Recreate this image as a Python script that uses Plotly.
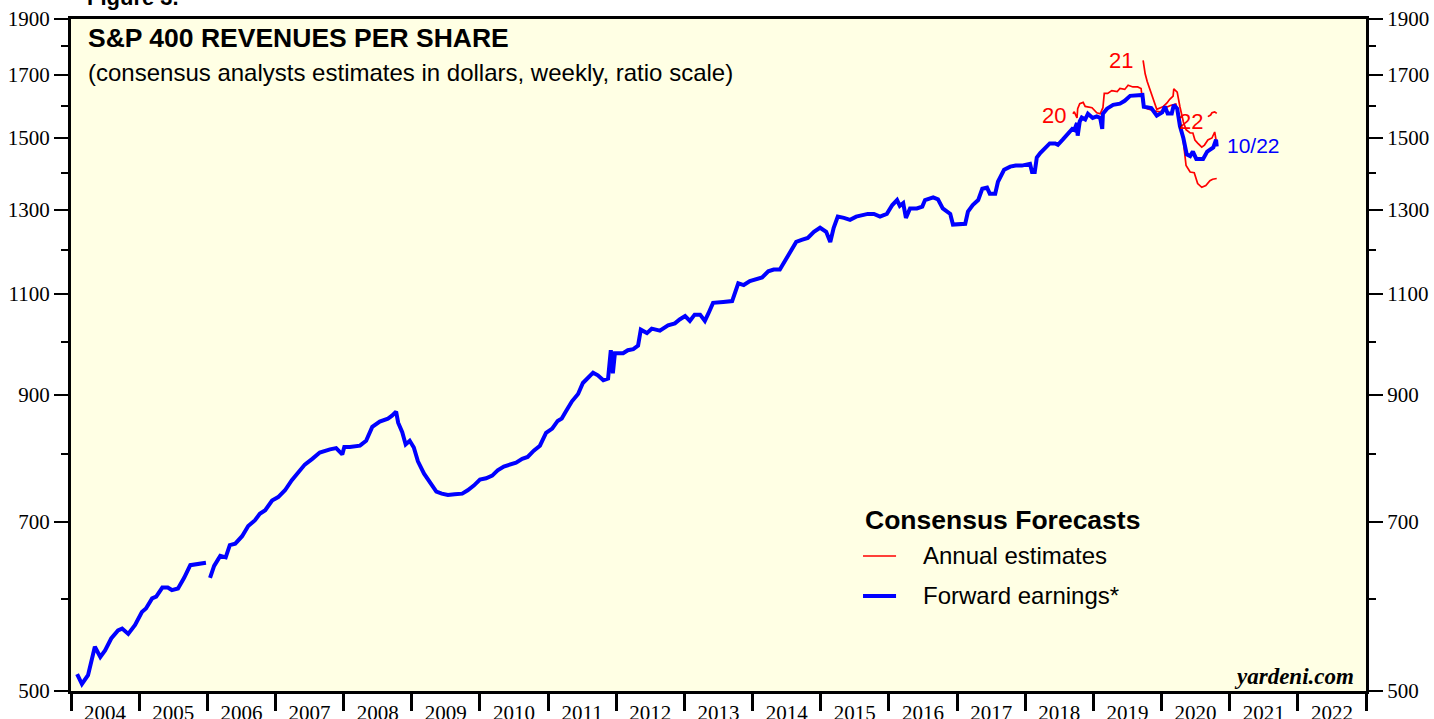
import math
import plotly.graph_objects as go

# ---------------- data (decimal years, dollars) ----------------
fwd_t = [2004.09, 2004.16, 2004.25, 2004.35, 2004.43, 2004.50, 2004.59, 2004.69, 2004.75, 2004.84,
         2004.94, 2005.04, 2005.10, 2005.19, 2005.25, 2005.34, 2005.42, 2005.48, 2005.57, 2005.66,
         2005.75, 2005.83, 2005.98, 2006.01, 2006.04, 2006.10, 2006.19, 2006.27, 2006.33, 2006.41,
         2006.51, 2006.60, 2006.70, 2006.77, 2006.85, 2006.95, 2007.04, 2007.14, 2007.24, 2007.33,
         2007.43, 2007.54, 2007.65, 2007.80, 2007.89, 2007.98, 2008.01, 2008.09, 2008.24, 2008.33,
         2008.42, 2008.53, 2008.65, 2008.71, 2008.77, 2008.80, 2008.86, 2008.91, 2008.97, 2009.03,
         2009.09, 2009.18, 2009.27, 2009.36, 2009.44, 2009.53, 2009.63, 2009.74, 2009.82, 2009.91,
         2010.00, 2010.09, 2010.18, 2010.26, 2010.35, 2010.44, 2010.53, 2010.62, 2010.70, 2010.79,
         2010.88, 2010.97, 2011.06, 2011.14, 2011.20, 2011.26, 2011.35, 2011.44, 2011.51, 2011.59,
         2011.66, 2011.73, 2011.81, 2011.88, 2011.92, 2011.95, 2011.98, 2012.10, 2012.17, 2012.25,
         2012.32, 2012.36, 2012.45, 2012.52, 2012.64, 2012.76, 2012.86, 2012.93, 2013.01, 2013.08,
         2013.15, 2013.23, 2013.30, 2013.35, 2013.42, 2013.57, 2013.70, 2013.79, 2013.87, 2013.96,
         2014.05, 2014.14, 2014.23, 2014.31, 2014.40, 2014.49, 2014.55, 2014.64, 2014.72, 2014.81,
         2014.90, 2014.99, 2015.08, 2015.14, 2015.19, 2015.25, 2015.34, 2015.43, 2015.52, 2015.61,
         2015.69, 2015.78, 2015.87, 2015.97, 2016.05, 2016.12, 2016.16, 2016.21, 2016.25, 2016.31,
         2016.41, 2016.49, 2016.53, 2016.65, 2016.72, 2016.79, 2016.90, 2016.94, 2017.04, 2017.12,
         2017.16, 2017.23, 2017.31, 2017.37, 2017.44, 2017.48, 2017.56, 2017.60, 2017.69, 2017.78,
         2017.86, 2017.95, 2018.07, 2018.10, 2018.14, 2018.17, 2018.22, 2018.32, 2018.36, 2018.44,
         2018.48, 2018.55, 2018.63, 2018.69, 2018.72, 2018.76, 2018.77, 2018.80, 2018.83, 2018.88,
         2018.92, 2018.99, 2019.05, 2019.10, 2019.13, 2019.14, 2019.20, 2019.29, 2019.39, 2019.46,
         2019.54, 2019.64, 2019.68, 2019.72, 2019.74, 2019.85, 2019.93, 2020.01, 2020.05, 2020.09,
         2020.15, 2020.18, 2020.23, 2020.27, 2020.32, 2020.37, 2020.42, 2020.46, 2020.51, 2020.61,
         2020.67, 2020.71, 2020.76, 2020.80, 2020.81]
fwd_v = [517, 507, 516, 546, 535, 542, 555, 564, 566, 560,
         570, 585, 589, 601, 603, 614, 614, 611, 613, 626,
         642, 643, 645, None, 626, 641, 654, 652, 668, 670,
         680, 694, 702, 711, 716, 730, 735, 745, 760, 771,
         784, 793, 803, 808, 810, 800, 812, 812, 814, 822,
         845, 854, 859, 864, 871, 852, 836, 816, 822, 811,
         789, 770, 755, 743, 740, 738, 739, 740, 745, 752,
         761, 763, 767, 775, 781, 784, 787, 793, 796, 806,
         814, 835, 842, 855, 859, 871, 889, 902, 922, 932,
         941, 936, 927, 930, 984, 940, 978, 978, 984, 986,
         993, 1025, 1018, 1027, 1023, 1034, 1038, 1046, 1053, 1043,
         1056, 1056, 1043, 1058, 1081, 1083, 1085, 1124, 1120, 1129,
         1133, 1137, 1151, 1155, 1155, 1178, 1196, 1220, 1225, 1230,
         1245, 1255, 1245, 1220, 1255, 1283, 1280, 1275, 1283, 1288,
         1290, 1290, 1283, 1290, 1313, 1326, 1311, 1318, 1280, 1304,
         1304, 1309, 1326, 1333, 1328, 1304, 1290, 1263, 1265, 1265,
         1296, 1313, 1326, 1356, 1359, 1343, 1343, 1375, 1408, 1417,
         1420, 1420, 1425, 1402, 1402, 1443, 1456, 1476, 1484, 1484,
         1480, 1495, 1512, 1527, 1524, 1545, 1507, 1550, 1562, 1556,
         1574, 1561, 1566, 1561, 1527, 1574, 1590, 1602, 1606, 1615,
         1631, 1631, 1634, 1634, 1596, 1592, 1568, 1578, 1597, 1575,
         1575, 1602, 1590, 1536, 1500, 1452, 1447, 1460, 1439, 1439,
         1460, 1465, 1472, 1495, 1475]

est20_t = [2018.70, 2018.72, 2018.76, 2018.77, 2018.80, 2018.85, 2018.88, 2018.92, 2018.98, 2019.05,
           2019.10, 2019.14, 2019.16, 2019.21, 2019.27, 2019.35, 2019.39, 2019.46, 2019.51, 2019.58,
           2019.65, 2019.70, 2019.73, 2019.79, 2019.91, 2019.98, 2020.05, 2020.13, 2020.21, 2020.27,
           2020.32, 2020.36, 2020.42, 2020.48, 2020.53, 2020.59, 2020.65, 2020.71, 2020.75, 2020.81]
est20_v = [1574, 1580, 1561, 1590, 1606, 1610, 1597, 1595, 1593, 1577,
           1574, 1593, 1639, 1639, 1648, 1645, 1655, 1652, 1666, 1660,
           1660, 1655, 1600, 1590, 1582, 1580, 1592, 1600, 1605, 1560,
           1490, 1420, 1402, 1400, 1370, 1360, 1365, 1378, 1382, 1384]

est21_t = [2019.73, 2019.76, 2019.79, 2019.83, 2019.87, 2019.91, 2019.93, 2020.02, 2020.08, 2020.12,
           2020.17, 2020.18, 2020.23, 2020.27, 2020.32, 2020.36, 2020.42, 2020.46, 2020.49, 2020.53,
           2020.59, 2020.63, 2020.68, 2020.74, 2020.78, 2020.80, 2020.81]
est21_v = [1750, 1704, 1678, 1652, 1621, 1595, 1588, 1596, 1608, 1620,
           1630, 1654, 1643, 1596, 1549, 1525, 1515, 1515, 1494, 1485,
           1473, 1479, 1494, 1500, 1518, 1494, 1480]

est22_t = [2020.68, 2020.72, 2020.74, 2020.78, 2020.81]
est22_v = [1565, 1570, 1577, 1580, 1575]

years = list(range(2004, 2023))
year_labels = [str(y) for y in years]
y_major = [500, 700, 900, 1100, 1300, 1500, 1700, 1900]
y_minor = [600, 800, 1000, 1200, 1400, 1600, 1800]

RED = "#FF0000"
BLUE = "#0000FF"

fig = go.Figure()
for t, v in [(est20_t, est20_v), (est21_t, est21_v), (est22_t, est22_v)]:
    fig.add_trace(go.Scatter(x=t, y=v, mode="lines", line=dict(color=RED, width=1.7),
                             showlegend=False, hoverinfo="skip"))
fig.add_trace(go.Scatter(x=fwd_t, y=fwd_v, mode="lines", line=dict(color=BLUE, width=4),
                         connectgaps=False, showlegend=False, hoverinfo="skip"))
# anchor trace for the right-hand axis
fig.add_trace(go.Scatter(x=[None], y=[None], yaxis="y2", showlegend=False, hoverinfo="skip"))

yr = [math.log10(500), math.log10(1900)]
tickfont = dict(family="Liberation Serif", size=21, color="black")

yaxis_common = dict(
    type="log", range=yr, showgrid=False, zeroline=False, automargin=False,
    tickvals=y_major, ticktext=[str(v) for v in y_major],
    ticks="outside", ticklen=14, tickwidth=2, tickcolor="black",
    tickfont=tickfont,
    showline=True, linecolor="black", linewidth=3,
    minor=dict(tickvals=y_minor, ticks="outside", ticklen=7, tickwidth=2,
               tickcolor="black", showgrid=False),
)

fig.update_layout(
    width=1434, height=719,
    margin=dict(l=71, r=68, t=19, b=28),
    paper_bgcolor="white",
    plot_bgcolor="#FFFFE4",
    showlegend=False,
    xaxis=dict(
        range=[2004, 2023], showgrid=False, zeroline=False, automargin=False,
        tickvals=[y + 0.5 for y in years], ticktext=year_labels,
        ticks="outside", ticklen=1, tickcolor="rgba(0,0,0,0)",
        tickfont=tickfont,
        showline=True, linecolor="black", linewidth=3, mirror=True,
        minor=dict(tickvals=list(range(2004, 2024)), ticks="outside", ticklen=17,
                   tickwidth=3, tickcolor="black", showgrid=False),
    ),
    yaxis=dict(**yaxis_common),
    yaxis2=dict(**yaxis_common, overlaying="y", side="right"),
)

sans = "Liberation Sans"
ann = []
ann.append(dict(text="<b>Figure 3.</b>", xref="paper", yref="paper", x=0.0108, y=1,
                xanchor="left", yanchor="bottom", yshift=7, showarrow=False,
                font=dict(family=sans, size=22, color="black")))
ann.append(dict(text="<b>S&P 400 REVENUES PER SHARE</b>", xref="paper", yref="paper",
                x=0.0116, y=0.9717, xanchor="left", yanchor="middle", showarrow=False,
                font=dict(family=sans, size=26.5, color="black")))
ann.append(dict(text="(consensus analysts estimates in dollars, weekly, ratio scale)",
                xref="paper", yref="paper", x=0.0116, y=0.9211, xanchor="left",
                yanchor="middle", showarrow=False, font=dict(family=sans, size=24, color="black")))
# legend block
ann.append(dict(text="<b>Consensus Forecasts</b>", xref="paper", yref="paper",
                x=0.6116, y=0.2545, xanchor="left", yanchor="middle", showarrow=False,
                font=dict(family=sans, size=26.5, color="black")))
ann.append(dict(text="Annual estimates", xref="paper", yref="paper",
                x=0.6564, y=0.2009, xanchor="left", yanchor="middle", showarrow=False,
                font=dict(family=sans, size=24, color="black")))
ann.append(dict(text="Forward earnings*", xref="paper", yref="paper",
                x=0.6564, y=0.1414, xanchor="left", yanchor="middle", showarrow=False,
                font=dict(family=sans, size=24, color="black")))
ann.append(dict(text="<b><i>yardeni.com</i></b>", xref="paper", yref="paper",
                x=0.9923, y=0.0223, xanchor="right", yanchor="middle", showarrow=False,
                font=dict(family="Liberation Serif", size=23, color="black")))
# series labels
ann.append(dict(text="20", x=2018.42, y=math.log10(1568), xanchor="center", yanchor="middle",
                showarrow=False, font=dict(family=sans, size=22, color=RED)))
ann.append(dict(text="21", x=2019.40, y=math.log10(1749), xanchor="center", yanchor="middle",
                showarrow=False, font=dict(family=sans, size=22, color=RED)))
ann.append(dict(text="22", x=2020.43, y=math.log10(1550), xanchor="center", yanchor="middle",
                showarrow=False, font=dict(family=sans, size=22, color=RED)))
ann.append(dict(text="10/22", x=2020.93, y=math.log10(1477), xanchor="left", yanchor="middle",
                showarrow=False, font=dict(family=sans, size=21, color=BLUE)))
fig.update_layout(annotations=ann)

fig.add_shape(type="line", xref="paper", yref="paper", x0=0.6116, x1=0.6371,
              y0=0.2009, y1=0.2009, line=dict(color=RED, width=1.7))
fig.add_shape(type="line", xref="paper", yref="paper", x0=0.6116, x1=0.6371,
              y0=0.1414, y1=0.1414, line=dict(color=BLUE, width=4))

# the page's default 8px body margin would offset the figure inside the window
fig.write_html("out.html", config={"displayModeBar": False},
               post_script="document.body.style.margin='0px';")
